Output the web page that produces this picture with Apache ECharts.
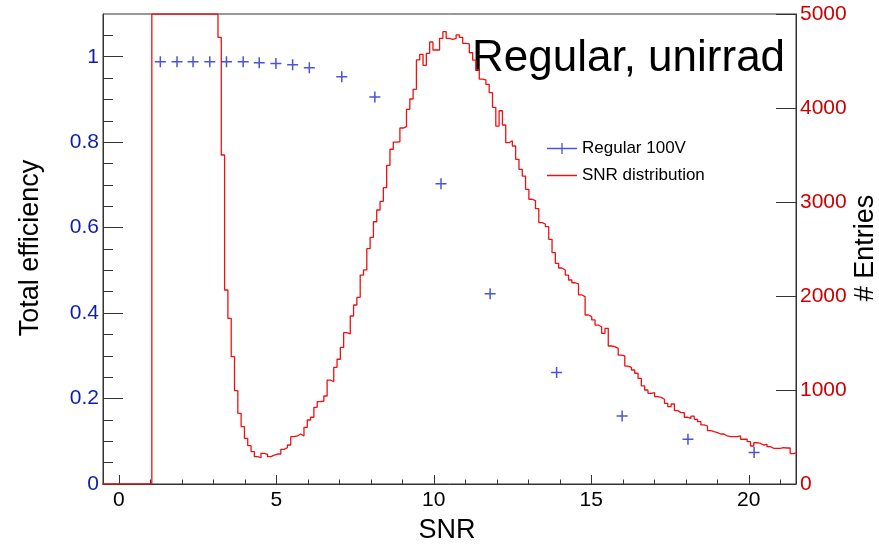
<!DOCTYPE html>
<html>
<head>
<meta charset="utf-8">
<script src="https://cdn.jsdelivr.net/npm/echarts@6/dist/echarts.min.js"></script>
<style>html,body{margin:0;padding:0;background:#fff}#c{width:879px;height:548px}</style>
</head>
<body>
<div id="c"></div>
<script>
// ---- data ----
const effX = [1.32, 1.85, 2.36, 2.89, 3.42, 3.95, 4.46, 4.99, 5.52, 6.05, 7.08, 8.13, 10.23, 11.79, 13.90, 15.98, 18.07, 20.17];
const effY = [0.988, 0.988, 0.988, 0.988, 0.988, 0.988, 0.986, 0.984, 0.981, 0.974, 0.953, 0.906, 0.703, 0.445, 0.261, 0.159, 0.105, 0.074];
const binStart = -0.525;   // low edge of first bin
const binWidth = 0.105;
const snrCounts = [
  0,0,0,0,0,
  0,0,0,0,0,0,0,0,0,0,
  5000,5000,5000,5000,5000,5000,5000,5000,5000,5000,
  5000,5000,5000,5000,5000,5000,5000,5000,5000,5000,
  4752,3500,2064,1763,1354,993,752,610,486,408,
  344,291,280,326,316,291,308,319,319,369,
  386,415,503,511,532,511,603,681,710,816,
  876,883,936,1106,1088,1241,1327,1454,1610,1596,
  1787,1904,1986,2223,2277,2503,2624,2790,2915,3007,
  3152,3390,3561,3638,3641,3787,3801,3986,4096,4199,
  4511,4571,4454,4582,4702,4617,4617,4741,4812,4741,
  4731,4741,4777,4752,4688,4681,4588,4510,4404,4308,
  4298,4252,4163,4007,3808,3971,3819,3631,3652,3596,
  3454,3348,3276,3135,3029,3014,2929,2780,2766,2737,
  2603,2461,2348,2298,2277,2223,2170,2141,2128,2011,
  1993,1798,1780,1745,1691,1673,1603,1656,1468,1461,
  1443,1372,1362,1255,1241,1213,1178,1124,1043,1000,
  965,971,929,922,901,858,823,851,780,759,
  759,710,699,723,688,663,628,617,567,556,
  546,532,532,511,503,503,503,511,476,476,
  450,404,439,433,415,422,397,380,380,380,
  386,383,383,324,330
];
const xMajorTicks = [0, 5, 10, 15, 20];
const xMinorTicks = [0,1,2,3,4,5,6,7,8,9,10,11,12,13,14,15,16,17,18,19,20,21];
const yLeftMajor = [0, 0.2, 0.4, 0.6, 0.8, 1.0];
const yLeftMinor = [0.05,0.1,0.15,0.25,0.3,0.35,0.45,0.5,0.55,0.65,0.7,0.75,0.85,0.9,0.95,1.05];

// ---- build ----
const FONT = '"Liberation Sans", Arial, Helvetica, sans-serif';
const BLUE = '#1a2bcc';
const RED = '#ee1111';
const effData = effX.map((x, i) => [x, effY[i]]);
const histData = snrCounts.map((v, i) => [binStart + i * binWidth, v]);
histData.push([binStart + snrCounts.length * binWidth, snrCounts[snrCounts.length - 1]]);

const chart = echarts.init(document.getElementById('c'), null, {renderer: 'canvas'});
chart.setOption({
  animation: false,
  backgroundColor: '#fff',
  grid: {left: 103, top: 14, right: 83, bottom: 64, show: true, borderColor: '#333', borderWidth: 1, containLabel: false},
  xAxis: [
    {type: 'value', min: -0.5, max: 21.5, position: 'bottom',
     axisLine: {show: true, onZero: false, lineStyle: {color: '#333', width: 1}},
     axisTick: {show: true, inside: true, length: 9, customValues: xMajorTicks, lineStyle: {color: '#333'}},
     axisLabel: {show: true, customValues: xMajorTicks, fontSize: 21, color: '#000', margin: 6, fontFamily: FONT},
     splitLine: {show: false}},
    {type: 'value', min: -0.5, max: 21.5, position: 'bottom',
     axisLine: {show: false, onZero: false},
     axisTick: {show: true, inside: true, length: 4.5, customValues: xMinorTicks, lineStyle: {color: '#333'}},
     axisLabel: {show: false}, splitLine: {show: false}}
  ],
  yAxis: [
    {type: 'value', min: 0, max: 1.1, position: 'left',
     axisLine: {show: true, onZero: false, lineStyle: {color: '#333', width: 1}},
     axisTick: {show: true, inside: true, length: 20, customValues: yLeftMajor, lineStyle: {color: '#333'}},
     axisLabel: {show: true, customValues: yLeftMajor, fontSize: 21, color: '#0d1ea8', margin: 4, fontFamily: FONT},
     splitLine: {show: false}},
    {type: 'value', min: 0, max: 1.1, position: 'left',
     axisLine: {show: false, onZero: false},
     axisTick: {show: true, inside: true, length: 10, customValues: yLeftMinor, lineStyle: {color: '#333'}},
     axisLabel: {show: false}, splitLine: {show: false}},
    {type: 'value', min: 0, max: 5000, interval: 1000, position: 'right',
     axisLine: {show: true, onZero: false, lineStyle: {color: '#333', width: 1}},
     axisTick: {show: true, inside: true, length: 20, lineStyle: {color: '#333'}},
     axisLabel: {show: true, fontSize: 21, color: '#cc0000', margin: 4, fontFamily: FONT,
                 formatter: (v) => String(v)},
     splitLine: {show: false}}
  ],
  legend: {
    orient: 'vertical', left: 542, top: 135, itemWidth: 30, itemHeight: 12, itemGap: 10,
    textStyle: {fontSize: 17, fontFamily: FONT, color: '#000'},
    data: [
      {name: 'Regular 100V',
       icon: 'path://M0,5.35 L30,5.35 L30,6.65 L0,6.65 Z M14.35,0.5 L15.65,0.5 L15.65,11.5 L14.35,11.5 Z',
       itemStyle: {color: BLUE, borderWidth: 0}},
      {name: 'SNR distribution',
       icon: 'path://M0,5.35 L30,5.35 L30,6.65 L0,6.65 Z M0,0 L0.01,0 M0,12 L0.01,12',
       itemStyle: {color: RED, borderWidth: 0}}
    ]
  },
  series: [
    {name: 'SNR distribution', type: 'line', xAxisIndex: 0, yAxisIndex: 2, step: 'end',
     data: histData, symbol: 'none', showSymbol: false, clip: true,
     lineStyle: {color: RED, width: 1.3}, itemStyle: {color: RED}, z: 2},
    {name: 'Regular 100V', type: 'scatter', xAxisIndex: 0, yAxisIndex: 0, data: effData,
     symbol: 'path://M0,5 L10,5 M5,0 L5,10', symbolSize: 11,
     itemStyle: {color: 'transparent', borderColor: BLUE, borderWidth: 1.5}, z: 3}
  ],
  graphic: [
    {type: 'text', x: 472, y: 59, style: {text: 'Regular, unirrad', fontSize: 44, fontFamily: FONT, fill: '#000', align: 'left', verticalAlign: 'middle'}},
    {type: 'text', x: 31, y: 248, rotation: Math.PI / 2, style: {text: 'Total efficiency', fontSize: 27, fontFamily: FONT, fill: '#000', align: 'center', verticalAlign: 'middle'}},
    {type: 'text', x: 447, y: 531, style: {text: 'SNR', fontSize: 27, fontFamily: FONT, fill: '#000', align: 'center', verticalAlign: 'middle'}},
    {type: 'text', x: 866, y: 248, rotation: Math.PI / 2, style: {text: '# Entries', fontSize: 27, fontFamily: FONT, fill: '#000', align: 'center', verticalAlign: 'middle'}}
  ]
});
</script>
</body>
</html>
